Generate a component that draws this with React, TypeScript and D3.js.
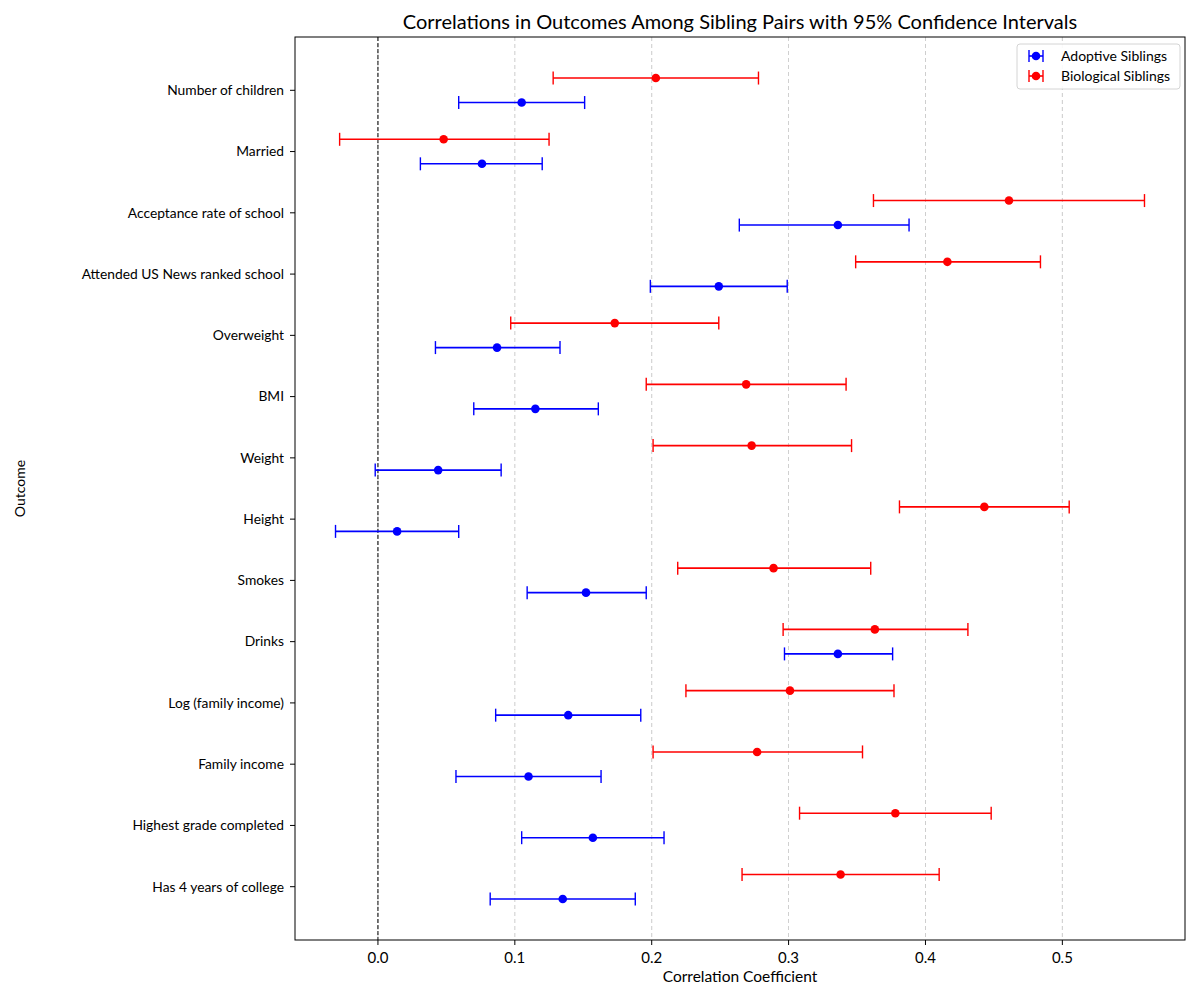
import React from "react";
import * as d3 from "d3";

// outcomes, top to bottom as drawn
const outcomes = [
  "Number of children",
  "Married",
  "Acceptance rate of school",
  "Attended US News ranked school",
  "Overweight",
  "BMI",
  "Weight",
  "Height",
  "Smokes",
  "Drinks",
  "Log (family income)",
  "Family income",
  "Highest grade completed",
  "Has 4 years of college",
];

// adoptive siblings: estimate, lower, upper
const adoptiveR = [0.105, 0.076, 0.336, 0.249, 0.087, 0.115, 0.044, 0.014, 0.152, 0.336, 0.139, 0.110, 0.157, 0.135];
const adoptiveLo = [0.059, 0.031, 0.264, 0.199, 0.042, 0.070, -0.002, -0.031, 0.109, 0.297, 0.086, 0.057, 0.105, 0.082];
const adoptiveHi = [0.151, 0.120, 0.388, 0.299, 0.133, 0.161, 0.090, 0.059, 0.196, 0.376, 0.192, 0.163, 0.209, 0.188];

// biological siblings
const bioR = [0.203, 0.048, 0.461, 0.416, 0.173, 0.269, 0.273, 0.443, 0.289, 0.363, 0.301, 0.277, 0.378, 0.338];
const bioLo = [0.128, -0.028, 0.362, 0.349, 0.097, 0.196, 0.201, 0.381, 0.219, 0.296, 0.225, 0.201, 0.308, 0.266];
const bioHi = [0.278, 0.125, 0.560, 0.484, 0.249, 0.342, 0.346, 0.505, 0.360, 0.431, 0.377, 0.354, 0.448, 0.410];

const xTicks = [0.0, 0.1, 0.2, 0.3, 0.4, 0.5];

const W = 1200;
const H = 1000;
const M = { left: 295, right: 15, top: 37, bottom: 60 };
const FONT = "Lato, 'DejaVu Sans', sans-serif";

const series = [
  { name: "Adoptive Siblings", color: "#0000ff", r: adoptiveR, lo: adoptiveLo, hi: adoptiveHi, offset: -0.2 },
  { name: "Biological Siblings", color: "#ff0000", r: bioR, lo: bioLo, hi: bioHi, offset: 0.2 },
];

export default function App() {
  const n = outcomes.length;
  const x = d3.scaleLinear().domain([-0.0606, 0.5896]).range([M.left, W - M.right]);
  // index 0 at bottom (matplotlib style)
  const y = d3.scaleLinear().domain([-0.87, n - 1 + 0.87]).range([H - M.bottom, M.top]);
  const pos = (i: number) => n - 1 - i;
  const cap = 6.5;

  return (
    <svg width={W} height={H} style={{ position: "absolute", left: 0, top: 0, background: "#fff" }} fontFamily={FONT}>
      <rect x={0} y={0} width={W} height={H} fill="#fff" />
      {/* grid */}
      {xTicks.map((t) => (
        <line key={t} x1={x(t)} x2={x(t)} y1={M.top} y2={H - M.bottom} stroke="#b0b0b0" strokeWidth={0.8} strokeDasharray="4,3" opacity={0.8} />
      ))}
      <line x1={x(0)} x2={x(0)} y1={M.top} y2={H - M.bottom} stroke="#000" strokeWidth={1} strokeDasharray="4,2" />

      {series.map((s) => (
        <g key={s.name} stroke={s.color} fill={s.color}>
          {s.r.map((v, i) => {
            const yy = y(pos(i) + s.offset);
            return (
              <g key={i}>
                <line x1={x(s.lo[i])} x2={x(s.hi[i])} y1={yy} y2={yy} strokeWidth={1.6} />
                <line x1={x(s.lo[i])} x2={x(s.lo[i])} y1={yy - cap} y2={yy + cap} strokeWidth={1.4} />
                <line x1={x(s.hi[i])} x2={x(s.hi[i])} y1={yy - cap} y2={yy + cap} strokeWidth={1.4} />
                <circle cx={x(v)} cy={yy} r={4.3} stroke="none" />
              </g>
            );
          })}
        </g>
      ))}

      {/* axes frame */}
      <rect x={M.left} y={M.top} width={W - M.right - M.left} height={H - M.bottom - M.top} fill="none" stroke="#000" strokeWidth={1} />

      {/* x ticks */}
      {xTicks.map((t) => (
        <g key={t} transform={`translate(${x(t)},${H - M.bottom})`}>
          <line y1={0} y2={5} stroke="#000" />
          <text y={23} textAnchor="middle" fontSize={15}>{d3.format(".1f")(t)}</text>
        </g>
      ))}
      {/* y ticks */}
      {outcomes.map((o, i) => (
        <g key={o} transform={`translate(${M.left},${y(pos(i))})`}>
          <line x1={0} x2={-5} stroke="#000" />
          <text x={-11} dy="0.35em" textAnchor="end" fontSize={13.8}>{o}</text>
        </g>
      ))}

      <text x={(M.left + W - M.right) / 2} y={982} textAnchor="middle" fontSize={15.5}>Correlation Coefficient</text>
      <text transform={`translate(25,${(M.top + H - M.bottom) / 2}) rotate(-90)`} textAnchor="middle" fontSize={14}>Outcome</text>
      <text x={(M.left + W - M.right) / 2} y={29} textAnchor="middle" fontSize={20}>
        Correlations in Outcomes Among Sibling Pairs with 95% Confidence Intervals
      </text>

      {/* legend */}
      <g transform="translate(1017,44)">
        <rect x={0} y={0} width={163} height={45} rx={3} fill="#fff" stroke="#d0d0d0" opacity={0.9} />
        {series.map((s, i) => (
          <g key={s.name} transform={`translate(0,${12 + i * 20})`} stroke={s.color} fill={s.color}>
            <line x1={12} x2={26} y1={0} y2={0} strokeWidth={1.6} />
            <line x1={12} x2={12} y1={-6} y2={6} strokeWidth={1.4} />
            <line x1={26} x2={26} y1={-6} y2={6} strokeWidth={1.4} />
            <circle cx={19} cy={0} r={4.3} stroke="none" />
            <text x={44} dy="0.35em" fontSize={14} fill="#000" stroke="none">{s.name}</text>
          </g>
        ))}
      </g>
    </svg>
  );
}
